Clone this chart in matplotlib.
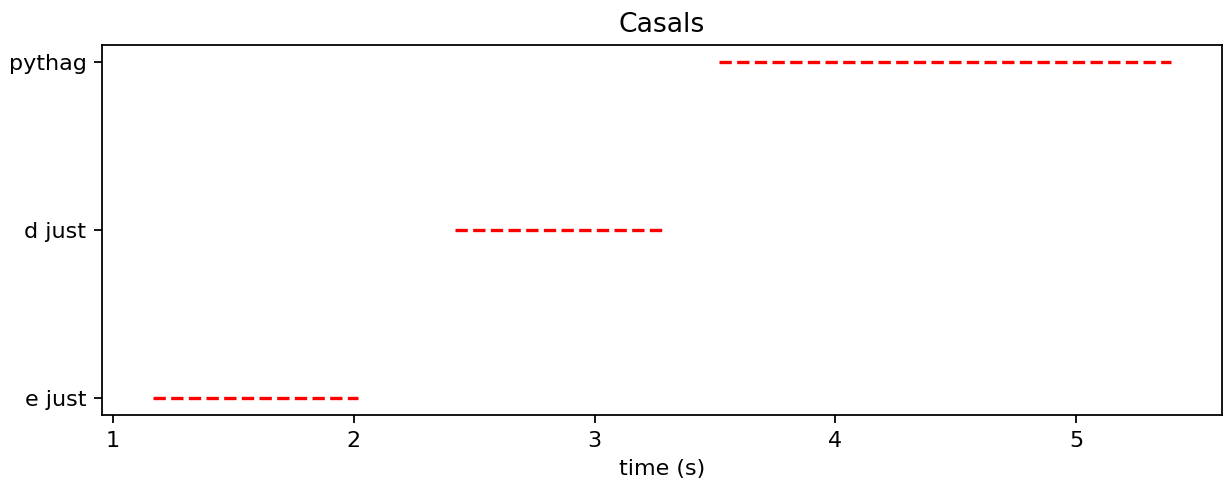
import matplotlib
matplotlib.use("Agg")
import matplotlib.pyplot as plt

labels = ["e just", "d just", "pythag"]
starts = [1.167, 2.422, 3.515]
ends = [2.018, 3.282, 5.393]

DPI = 160
fig = plt.figure(figsize=(1225/DPI, 487/DPI), dpi=DPI)
ax = fig.add_axes([102/1225, 72/487, 1120/1225, 370/487])
for i, (s, e) in enumerate(zip(starts, ends)):
    ax.plot([s, e], [labels[i], labels[i]], color="red", linestyle="--")
ax.set_title("Casals")
ax.set_xlabel("time (s)")
fig.savefig("out.png", dpi=DPI)
